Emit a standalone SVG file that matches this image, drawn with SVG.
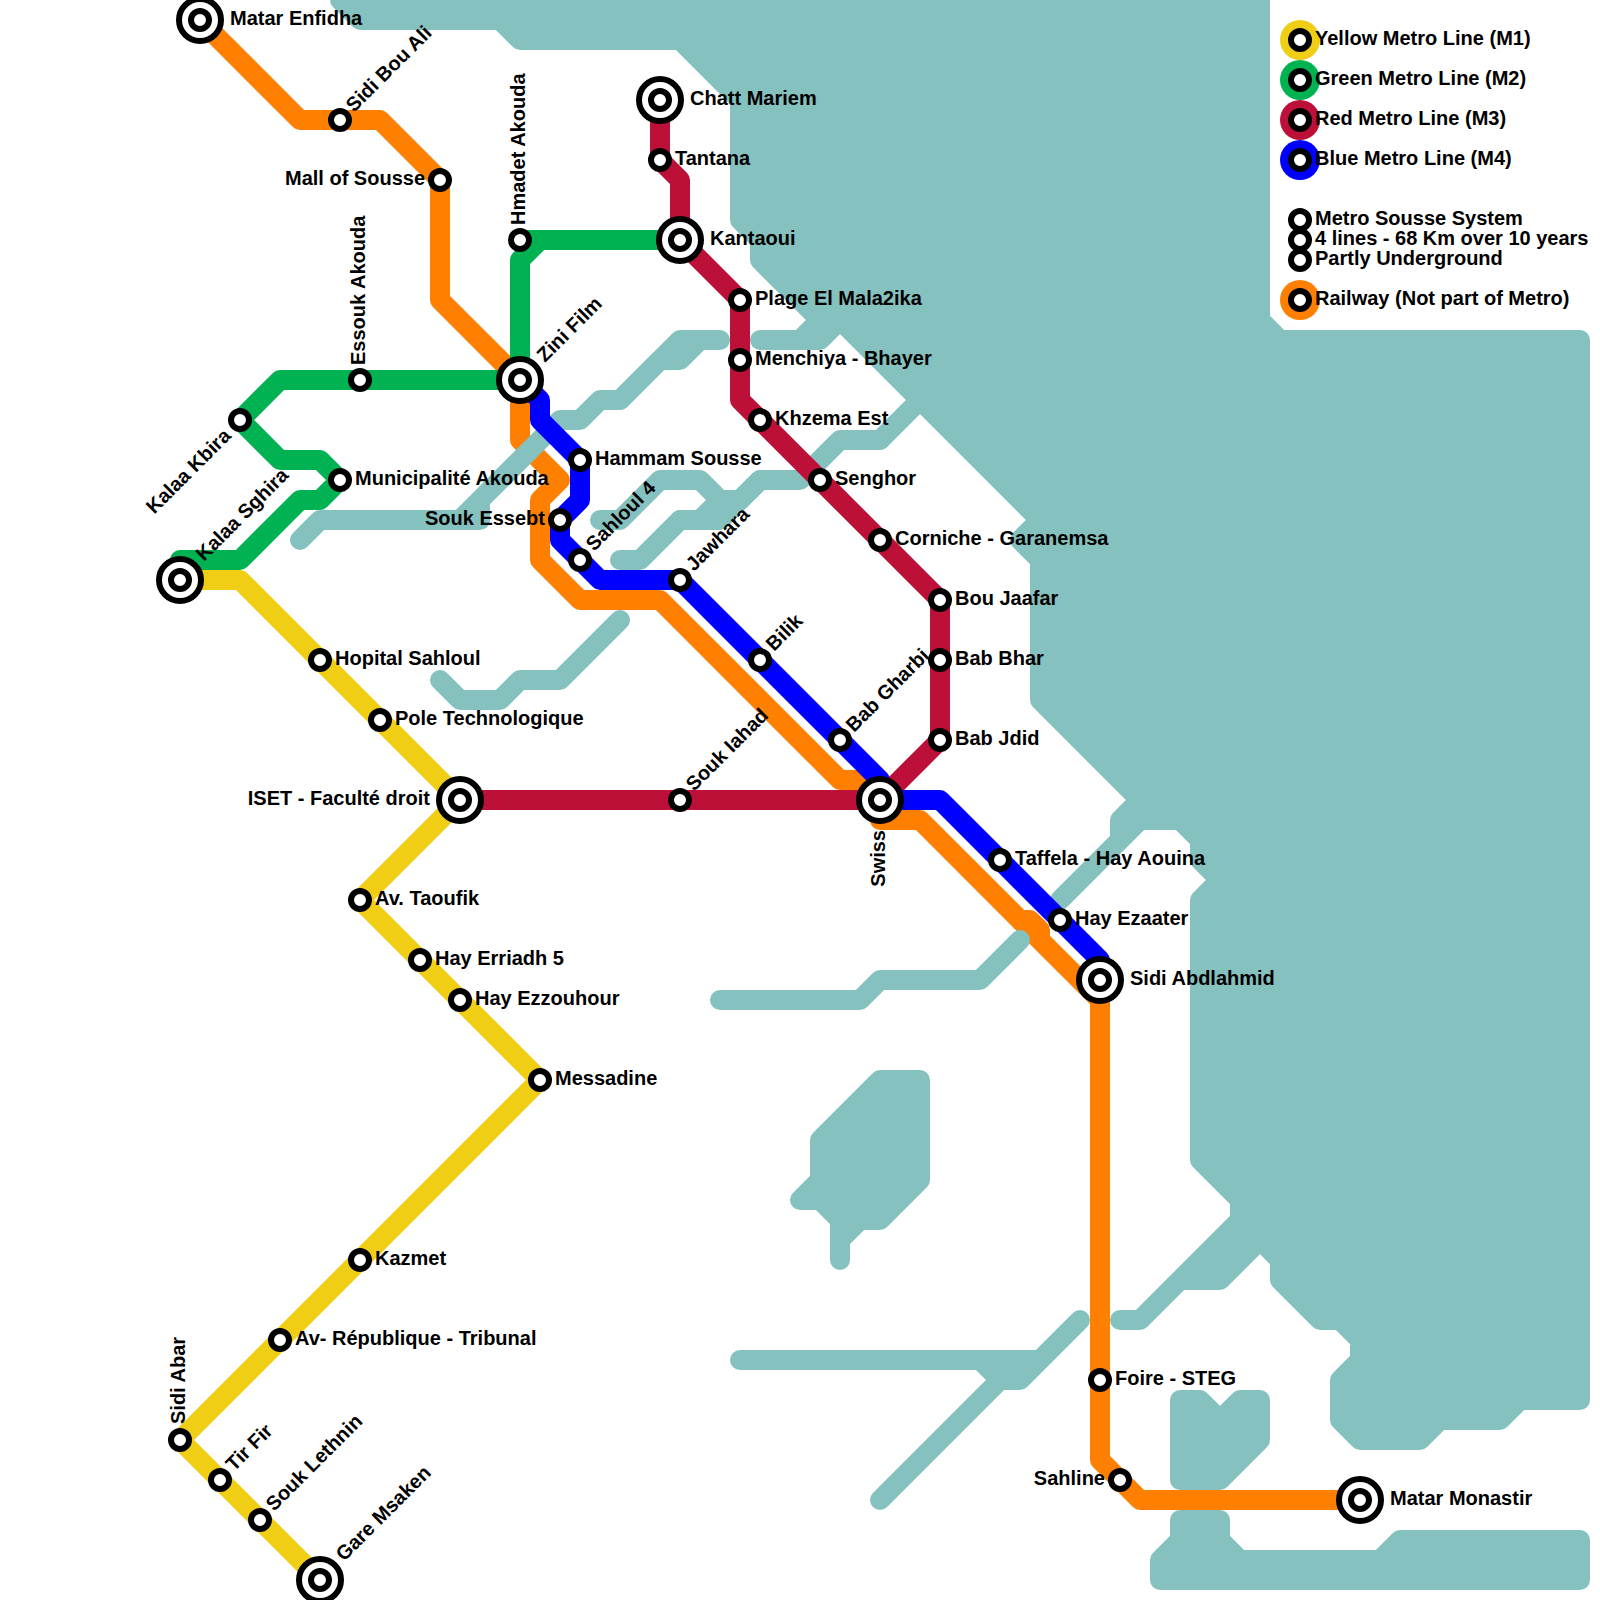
<svg xmlns="http://www.w3.org/2000/svg" width="1600" height="1600" viewBox="0 0 1600 1600">
<style>
.ln{fill:none;stroke-width:20;stroke-linejoin:round;stroke-linecap:round}
.w{stroke:#85c1bf}
.wf{fill:#85c1bf;stroke:#85c1bf;stroke-width:20;stroke-linejoin:round;stroke-linecap:round}
.y{stroke:#f0ce15}.g{stroke:#00b251}.r{stroke:#bd1038}.b{stroke:#0000ff}.o{stroke:#ff7f00}
.s{fill:#fff;stroke:#000;stroke-width:6}
text{font-family:"Liberation Sans",Arial,sans-serif;font-weight:700;font-size:20px;fill:#000}
.e{text-anchor:end}
</style>
<defs>
<g id="st"><circle class="s" r="9"/></g>
<g id="ic"><circle r="21" fill="#fff" stroke="#000" stroke-width="6"/><circle class="s" r="9"/></g>
</defs>
<rect width="1600" height="1600" fill="#fff"/>
<g id="connectors">
<path id="railway" class="ln o" d="M200,20 L300,120 H380 L440,180 V300 L520,380 V440 L560,480 L540,500 V560 L580,600 H660 L840,780 H880 V820 H920 L1100,1000 V1460 L1140,1500 H1360 M1020,920 H1030 L1040,930 V940"/>
<g id="water">
<path class="wf" d="M340,-20 V0 L360,20 H500 L520,40 H680 L740,100 V220 L760,240 V260 L820,320 L800,340 H760 H820 L840,320 L920,400 L880,440 L920,400 L1040,520 L1020,540 L1040,560 V700 L1140,800 L1120,820 V840 L1060,900 L1140,820 H1180 L1200,840 V860 L1220,880 L1200,900 V1160 L1240,1200 V1220 L1140,1320 H1120 H1140 L1180,1280 H1220 L1260,1240 L1280,1260 V1280 L1320,1320 H1340 L1360,1340 V1360 L1340,1380 V1420 L1360,1440 H1420 L1440,1420 H1500 L1520,1400 H1580 V340 H1280 L1260,320 V-20 Z"/>
<path class="wf" d="M880,1080 H920 V1180 L880,1220 H860 L840,1240 V1260 V1220 L820,1200 H800 L820,1180 V1140 Z"/>
<path class="wf" d="M1180,1400 H1200 L1220,1420 L1240,1400 H1260 V1440 L1220,1480 H1180 Z"/>
<path class="wf" d="M1180,1520 H1220 V1540 L1240,1560 H1380 L1400,1540 H1580 V1580 H1160 V1560 L1180,1540 Z"/>
<path class="ln w" d="M880,440 H840 L800,480 H760 L740,500 H720 L700,480 H660 L620,520 H600"/>
<path class="ln w" d="M760,480 L720,520 H680 L640,560 H620"/>
<path class="ln w" d="M720,500 L700,520 H680"/>
<path class="ln w" d="M300,540 L320,520 H480 V500 M460,520 L560,420 H580 L600,400 H620 L680,340 H720"/>
<path class="ln w" d="M700,340 L680,360 H660 L620,400"/>
<path class="ln w" d="M440,680 L460,700 H500 L520,680 H560 L620,620"/>
<path class="ln w" d="M720,1000 H860 L880,980 H980 L1020,940"/>
<path class="ln w" d="M740,1360 H1040 L1080,1320 M1040,1360 L1020,1380 H1000 L980,1360 M1000,1380 L880,1500"/>
</g>
<path id="m2" class="ln g" d="M180,560 H240 L300,500 H320 L340,480 L320,460 H280 L240,420 L280,380 H520 M520,380 V260 L540,240 H680 M520,240 H540"/>
<path id="m1" class="ln y" d="M180,580 H240 L460,800 L360,900 L540,1080 L180,1440 L320,1580"/>
<path id="m3" class="ln r" d="M660,100 V160 L680,180 V240 L740,300 V400 L940,600 V740 L880,800 H460"/>
<path id="m4" class="ln b" d="M520,380 L540,400 V420 L580,460 V500 L560,520 V540 L600,580 H680 L880,780 V800 H940 L1100,960 V980"/>
</g>
<g id="legend">
<circle cx="1300" cy="40" r="20" fill="#f0ce15"/><circle cx="1300" cy="80" r="20" fill="#00b251"/><circle cx="1300" cy="120" r="20" fill="#bd1038"/><circle cx="1300" cy="160" r="20" fill="#0000ff"/><circle cx="1300" cy="300" r="20" fill="#ff7f00"/>
<use href="#st" x="1300" y="40"/><use href="#st" x="1300" y="80"/><use href="#st" x="1300" y="120"/><use href="#st" x="1300" y="160"/><use href="#st" x="1300" y="220"/><use href="#st" x="1300" y="240"/><use href="#st" x="1300" y="260"/><use href="#st" x="1300" y="300"/>
<text x="1315" y="45">Yellow Metro Line (M1)</text>
<text x="1315" y="85">Green Metro Line (M2)</text>
<text x="1315" y="125">Red Metro Line (M3)</text>
<text x="1315" y="165">Blue Metro Line (M4)</text>
<text x="1315" y="225">Metro Sousse System</text>
<text x="1315" y="245">4 lines - 68 Km over 10 years</text>
<text x="1315" y="265">Partly Underground</text>
<text x="1315" y="305">Railway (Not part of Metro)</text>
</g>
<g id="stations">
<g id="n-matar-enfidha"><use href="#ic" x="200" y="20"/><text x="230" y="25">Matar Enfidha</text></g>
<g id="n-sidi-bou-ali"><use href="#st" x="340" y="120"/><text transform="translate(354,113) rotate(-45)">Sidi Bou Ali</text></g>
<g id="n-mall"><use href="#st" x="440" y="180"/><text class="e" x="425" y="185">Mall of Sousse</text></g>
<g id="n-hmadet"><use href="#st" x="520" y="240"/><text transform="translate(525,225) rotate(-90)">Hmadet Akouda</text></g>
<g id="n-essouk"><use href="#st" x="360" y="380"/><text transform="translate(365,365) rotate(-90)">Essouk Akouda</text></g>
<g id="n-zini"><use href="#ic" x="520" y="380"/><text transform="translate(545,363) rotate(-45)">Zini Film</text></g>
<g id="n-kalaa-kbira"><use href="#st" x="240" y="420"/><text class="e" transform="translate(232,437) rotate(-45)">Kalaa Kbira</text></g>
<g id="n-municipalite"><use href="#st" x="340" y="480"/><text x="355" y="485">Municipalité Akouda</text></g>
<g id="n-kalaa-sghira"><use href="#ic" x="180" y="580"/><text transform="translate(204,562) rotate(-45)">Kalaa Sghira</text></g>
<g id="n-chatt"><use href="#ic" x="660" y="100"/><text x="690" y="105">Chatt Mariem</text></g>
<g id="n-tantana"><use href="#st" x="660" y="160"/><text x="675" y="165">Tantana</text></g>
<g id="n-kantaoui"><use href="#ic" x="680" y="240"/><text x="710" y="245">Kantaoui</text></g>
<g id="n-plage"><use href="#st" x="740" y="300"/><text x="755" y="305">Plage El Mala2ika</text></g>
<g id="n-menchiya"><use href="#st" x="740" y="360"/><text x="755" y="365">Menchiya - Bhayer</text></g>
<g id="n-khzema"><use href="#st" x="760" y="420"/><text x="775" y="425">Khzema Est</text></g>
<g id="n-senghor"><use href="#st" x="820" y="480"/><text x="835" y="485">Senghor</text></g>
<g id="n-corniche"><use href="#st" x="880" y="540"/><text x="895" y="545">Corniche - Garanemsa</text></g>
<g id="n-bou-jaafar"><use href="#st" x="940" y="600"/><text x="955" y="605">Bou Jaafar</text></g>
<g id="n-bab-bhar"><use href="#st" x="940" y="660"/><text x="955" y="665">Bab Bhar</text></g>
<g id="n-bab-jdid"><use href="#st" x="940" y="740"/><text x="955" y="745">Bab Jdid</text></g>
<g id="n-hammam"><use href="#st" x="580" y="460"/><text x="595" y="465">Hammam Sousse</text></g>
<g id="n-souk-essebt"><use href="#st" x="560" y="520"/><text class="e" x="545" y="525">Souk Essebt</text></g>
<g id="n-sahloul"><use href="#st" x="580" y="560"/><text transform="translate(594,552) rotate(-45)">Sahloul 4</text></g>
<g id="n-jawhara"><use href="#st" x="680" y="580"/><text transform="translate(694,572) rotate(-45)">Jawhara</text></g>
<g id="n-bilik"><use href="#st" x="760" y="660"/><text transform="translate(774,652) rotate(-45)">Bilik</text></g>
<g id="n-bab-gharbi"><use href="#st" x="840" y="740"/><text transform="translate(854,733) rotate(-45)">Bab Gharbi</text></g>
<g id="n-hopital"><use href="#st" x="320" y="660"/><text x="335" y="665">Hopital Sahloul</text></g>
<g id="n-pole"><use href="#st" x="380" y="720"/><text x="395" y="725">Pole Technologique</text></g>
<g id="n-iset"><use href="#ic" x="460" y="800"/><text class="e" x="430" y="805">ISET - Faculté droit</text></g>
<g id="n-souk-iahad"><use href="#st" x="680" y="800"/><text transform="translate(694,792) rotate(-45)">Souk Iahad</text></g>
<g id="n-swiss"><use href="#ic" x="880" y="800"/><text class="e" transform="translate(885,830) rotate(-90)">Swiss</text></g>
<g id="n-taffela"><use href="#st" x="1000" y="860"/><text x="1015" y="865">Taffela - Hay Aouina</text></g>
<g id="n-hay-ezaater"><use href="#st" x="1060" y="920"/><text x="1075" y="925">Hay Ezaater</text></g>
<g id="n-sidi-abd"><use href="#ic" x="1100" y="980"/><text x="1130" y="985">Sidi Abdlahmid</text></g>
<g id="n-taoufik"><use href="#st" x="360" y="900"/><text x="375" y="905">Av. Taoufik</text></g>
<g id="n-erriadh"><use href="#st" x="420" y="960"/><text x="435" y="965">Hay Erriadh 5</text></g>
<g id="n-ezzouhour"><use href="#st" x="460" y="1000"/><text x="475" y="1005">Hay Ezzouhour</text></g>
<g id="n-messadine"><use href="#st" x="540" y="1080"/><text x="555" y="1085">Messadine</text></g>
<g id="n-kazmet"><use href="#st" x="360" y="1260"/><text x="375" y="1265">Kazmet</text></g>
<g id="n-av-rep"><use href="#st" x="280" y="1340"/><text x="295" y="1345">Av- République - Tribunal</text></g>
<g id="n-sidi-abar"><use href="#st" x="180" y="1440"/><text transform="translate(185,1424) rotate(-90)">Sidi Abar</text></g>
<g id="n-tir-fir"><use href="#st" x="220" y="1480"/><text transform="translate(234,1472) rotate(-45)">Tir Fir</text></g>
<g id="n-souk-lethnin"><use href="#st" x="260" y="1520"/><text transform="translate(274,1512) rotate(-45)">Souk Lethnin</text></g>
<g id="n-gare"><use href="#ic" x="320" y="1580"/><text transform="translate(344,1562) rotate(-45)">Gare Msaken</text></g>
<g id="n-foire"><use href="#st" x="1100" y="1380"/><text x="1115" y="1385">Foire - STEG</text></g>
<g id="n-sahline"><use href="#st" x="1120" y="1480"/><text class="e" x="1105" y="1485">Sahline</text></g>
<g id="n-matar-monastir"><use href="#ic" x="1360" y="1500"/><text x="1390" y="1505">Matar Monastir</text></g>
</g>
</svg>
